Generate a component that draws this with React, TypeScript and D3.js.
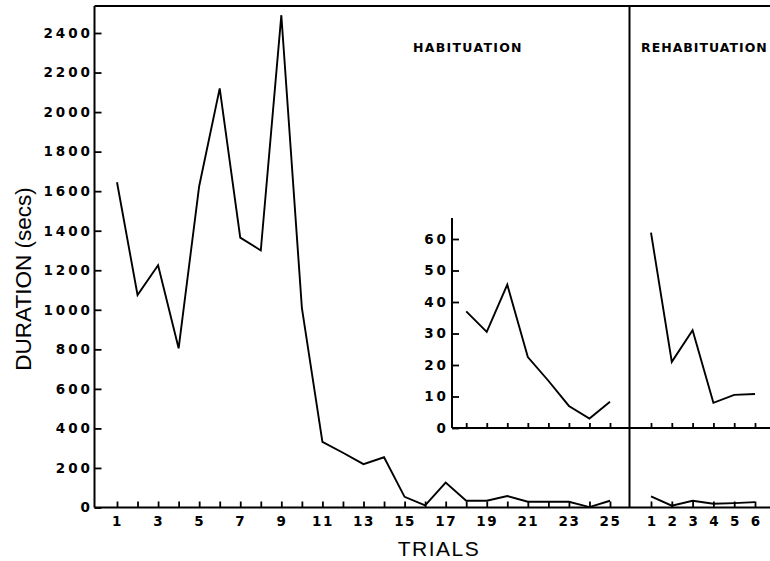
import * as d3 from "d3";
import { useEffect, useRef } from "react";

// habituation trials (main scale, secs)
const habTrials = [1, 2, 3, 4, 5, 6, 7, 8, 9, 10, 11, 12, 13, 14, 15, 16, 17, 18, 19, 20, 21, 22, 23, 24, 25];
const habDuration = [1645, 1075, 1225, 805, 1625, 2120, 1365, 1300, 2490, 1010, 332, 277, 219, 254, 54, 11, 126, 34, 34, 58, 29, 29, 29, 2, 34];

// rehabituation trials (main scale)
const rehabTrials = [1, 2, 3, 4, 5, 6];
const rehabDuration = [56, 9, 34, 19, 22, 27];

// inset (expanded scale 0-60)
const insetHabTrials = [18, 19, 20, 21, 22, 23, 24, 25];
const insetHabDuration = [37, 30.5, 45.5, 22.5, 15, 7, 3, 8.3];
const insetRehabDuration = [62, 21, 31, 8, 10.5, 10.8];

const mainYTicks = [0, 200, 400, 600, 800, 1000, 1200, 1400, 1600, 1800, 2000, 2200, 2400];
const insetYTicks = [0, 10, 20, 30, 40, 50, 60];
const habLabels = [1, 3, 5, 7, 9, 11, 13, 15, 17, 19, 21, 23, 25];

const W = 770;
const H = 561;
const tickFont = "'DejaVu Sans', sans-serif";
const titleFont = "'Liberation Sans', Arial, sans-serif";

const App = () => {
  const chartRef = useRef<SVGSVGElement | null>(null);

  useEffect(() => {
    const svg = d3.select(chartRef.current);
    svg.selectAll("*").remove();

    // frame positions
    const left = 94.5;
    const top = 6;
    const base = 507.5;
    const divider = 629.5;
    const insetLeft = 452;
    const insetBase = 428;
    const insetTop = 218;

    // scales
    const x = d3.scaleLinear().domain([1, 25]).range([117, 610]);
    const xr = d3.scaleLinear().domain([1, 6]).range([651, 755]);
    const y = d3.scaleLinear().domain([0, 2400]).range([base, 33]);
    const yi = d3.scaleLinear().domain([0, 60]).range([insetBase, 239]);

    const styleAxis = (g: any, ls: number) => {
      g.select(".domain").remove();
      g.selectAll(".tick line").attr("stroke", "#000").attr("stroke-width", 1.8);
      g.selectAll(".tick text")
        .attr("fill", "#000")
        .style("font-family", tickFont)
        .style("font-weight", "bold")
        .style("font-size", "13.5px")
        .style("letter-spacing", `${ls}px`);
    };

    // main y axis
    svg.append("g")
      .attr("transform", `translate(${left},0)`)
      .call(d3.axisLeft(y).tickValues(mainYTicks).tickSizeInner(-7).tickSizeOuter(0).tickPadding(1.5).tickFormat(d3.format("d")))
      .call((g: any) => styleAxis(g, 3));

    // main x axis - habituation
    svg.append("g")
      .attr("transform", `translate(0,${base})`)
      .call(d3.axisBottom(x).tickValues(habTrials).tickSizeInner(-6).tickSizeOuter(0).tickPadding(9)
        .tickFormat((d: any) => (habLabels.includes(d) ? String(d) : "")))
      .call((g: any) => styleAxis(g, 1.5));

    // main x axis - rehabituation
    svg.append("g")
      .attr("transform", `translate(0,${base})`)
      .call(d3.axisBottom(xr).tickValues(rehabTrials).tickSizeInner(-6).tickSizeOuter(0).tickPadding(9).tickFormat(d3.format("d")))
      .call((g: any) => styleAxis(g, 0));

    // inset y axis
    svg.append("g")
      .attr("transform", `translate(${insetLeft},0)`)
      .call(d3.axisLeft(yi).tickValues(insetYTicks).tickSizeInner(-7).tickSizeOuter(0).tickPadding(3).tickFormat(d3.format("d")))
      .call((g: any) => styleAxis(g, 3));

    // inset x ticks (no labels)
    svg.append("g")
      .attr("transform", `translate(0,${insetBase})`)
      .call(d3.axisBottom(x).tickValues(insetHabTrials).tickSizeInner(-5).tickSizeOuter(0).tickFormat(() => ""))
      .call((g: any) => styleAxis(g, 0));
    svg.append("g")
      .attr("transform", `translate(0,${insetBase})`)
      .call(d3.axisBottom(xr).tickValues(rehabTrials).tickSizeInner(-5).tickSizeOuter(0).tickFormat(() => ""))
      .call((g: any) => styleAxis(g, 0));

    // frame lines
    const frame = [
      [left, top, left, base],
      [left, top, W, top],
      [left, base, W, base],
      [divider, top, divider, base],
      [insetLeft, insetTop, insetLeft, insetBase],
      [insetLeft, insetBase, W, insetBase],
    ];
    svg.append("g")
      .selectAll("line")
      .data(frame)
      .enter()
      .append("line")
      .attr("x1", d => d[0])
      .attr("y1", d => d[1])
      .attr("x2", d => d[2])
      .attr("y2", d => d[3])
      .attr("stroke", "#000")
      .attr("stroke-width", 2);

    // data lines
    const series = [
      { xs: habTrials, vs: habDuration, sx: x, sy: y },
      { xs: rehabTrials, vs: rehabDuration, sx: xr, sy: y },
      { xs: insetHabTrials, vs: insetHabDuration, sx: x, sy: yi },
      { xs: rehabTrials, vs: insetRehabDuration, sx: xr, sy: yi },
    ];
    series.forEach(s => {
      const pts: [number, number][] = s.xs.map((t, i) => [s.sx(t), s.sy(s.vs[i])]);
      svg.append("path")
        .attr("d", d3.line()(pts))
        .attr("fill", "none")
        .attr("stroke", "#000")
        .attr("stroke-width", 1.9)
        .attr("stroke-linejoin", "miter");
    });

    // panel titles
    svg.append("text")
      .attr("x", 413).attr("y", 52)
      .text("HABITUATION")
      .style("font-family", tickFont).style("font-weight", "bold")
      .style("font-size", "12.5px").style("letter-spacing", "1.3px");
    svg.append("text")
      .attr("x", 641).attr("y", 52)
      .text("REHABITUATION")
      .style("font-family", tickFont).style("font-weight", "bold")
      .style("font-size", "12.5px").style("letter-spacing", "1px");

    // axis titles
    svg.append("text")
      .attr("x", 439).attr("y", 556)
      .attr("text-anchor", "middle")
      .text("TRIALS")
      .style("font-family", titleFont).style("font-size", "21px").style("letter-spacing", "1.5px");
    svg.append("text")
      .attr("transform", "translate(31,279) rotate(-90)")
      .attr("text-anchor", "middle")
      .text("DURATION (secs)")
      .style("font-family", titleFont).style("font-size", "22.5px");
  }, []);

  return (
    <svg ref={chartRef} width={W} height={H}
      style={{ position: "absolute", left: 0, top: 0, background: "#fff" }}></svg>
  );
};

export default App;
